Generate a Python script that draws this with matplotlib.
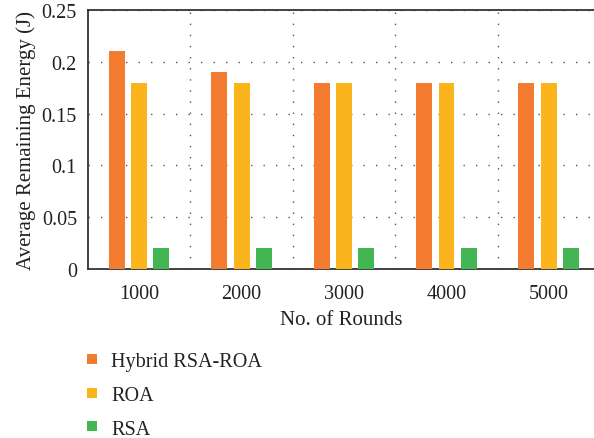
import matplotlib.pyplot as plt
import numpy as np
from matplotlib.ticker import FixedLocator

rounds = ['1000', '2000', '3000', '4000', '5000']
hybrid = [0.21, 0.19, 0.18, 0.18, 0.18]
roa = [0.18, 0.18, 0.18, 0.18, 0.18]
rsa = [0.02, 0.02, 0.02, 0.02, 0.02]

plt.rcParams['font.family'] = ['Liberation Serif', 'DejaVu Serif']

fig = plt.figure(figsize=(5.94, 4.39), dpi=100)
ax = fig.add_axes([88/594, 1 - 270/439, (594 - 88)/594, (270 - 11)/439])

x = np.arange(len(rounds))
w = 0.156
ax.bar(x - 0.22, hybrid, w, color='#F47C30', label='Hybrid RSA-ROA', zorder=3)
ax.bar(x, roa, w, color='#FBB41C', label='ROA', zorder=3)
ax.bar(x + 0.215, rsa, w, color='#44B553', label='RSA', zorder=3)

ax.set_xlim(-0.5, 4.44)
ax.set_ylim(0, 0.25)
ax.set_xticks(x)
ax.set_xticklabels(rounds)
ax.set_yticks([0, 0.05, 0.1, 0.15, 0.2, 0.25])
ax.set_yticklabels(['0', '0.05', '0.1', '0.15', '0.2', '0.25'])
ax.xaxis.set_minor_locator(FixedLocator([0.5, 1.5, 2.5, 3.5]))
ax.tick_params(axis='both', which='both', length=0, labelsize=14.5, colors='#222222')
ax.tick_params(axis='x', pad=11)
ax.tick_params(axis='y', pad=8)
ax.grid(axis='y', which='major', color='#555555', linestyle=(0, (1, 8)), linewidth=1, zorder=1)
ax.grid(axis='x', which='minor', color='#555555', linestyle=(0, (1, 7)), linewidth=1, zorder=1)

for s in ['left', 'bottom', 'top']:
    ax.spines[s].set_color('#333333')
    ax.spines[s].set_linewidth(1.3)
ax.spines['right'].set_visible(False)

ax.set_xlabel('No. of Rounds', fontsize=15, color='#222222', labelpad=5)
ax.set_ylabel('Average Remaining Energy (J)', fontsize=15, color='#222222', labelpad=4)

fig.legend(loc='upper left', bbox_to_anchor=(69/594, 1 - 335/439), frameon=False,
           fontsize=14.5, handlelength=0.5, handleheight=0.4, handletextpad=0.7,
           labelspacing=0.73, labelcolor='#222222')

fig.savefig('out.png', dpi=100)
